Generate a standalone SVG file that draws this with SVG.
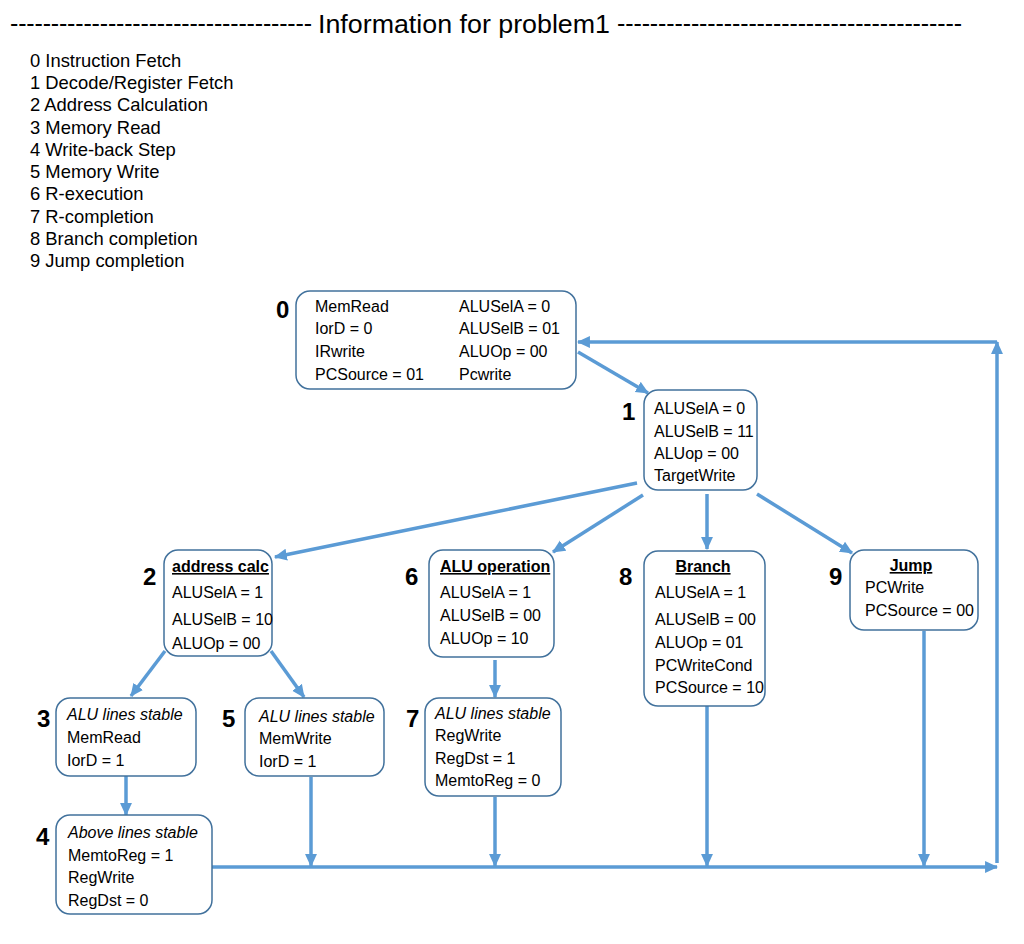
<svg xmlns="http://www.w3.org/2000/svg" width="1024" height="944" viewBox="0 0 1024 944">
<style>
.t{font-family:"Liberation Sans",Arial,sans-serif;font-size:16px;fill:#000}
.i{font-style:italic}
.h{font-weight:bold;text-decoration:underline}
.n{font-family:"Liberation Sans",Arial,sans-serif;font-size:24px;font-weight:bold;fill:#000}
.lst{font-family:"Liberation Sans",Arial,sans-serif;font-size:18.4px;fill:#000}
.box{fill:#fff;stroke:#41719c;stroke-width:1.5}
.c{stroke:#5b9bd5;stroke-width:3.5;fill:none}
.a{marker-end:url(#ah)}
</style>
<defs>
<marker id="ah" markerUnits="userSpaceOnUse" viewBox="0 0 12 12" refX="11" refY="6" markerWidth="13" markerHeight="13" orient="auto">
<path d="M0,0.5 L12,6 L0,11.5 Z" fill="#5b9bd5"/>
</marker>
</defs>
<rect width="1024" height="944" fill="#fff"/>
<g id="title">
<text x="10" y="32" class="lst" style="font-size:25px" textLength="302" lengthAdjust="spacing">-------------------------------------</text>
<text x="318" y="33" class="lst" style="font-size:25px" textLength="292" lengthAdjust="spacingAndGlyphs">Information for problem1</text>
<text x="617" y="32" class="lst" style="font-size:25px" textLength="345" lengthAdjust="spacing">------------------------------------------</text>
</g>
<g id="legend" class="lst">
<text x="30" y="67">0 Instruction Fetch</text>
<text x="30" y="89">1 Decode/Register Fetch</text>
<text x="30" y="111">2 Address Calculation</text>
<text x="30" y="134">3 Memory Read</text>
<text x="30" y="156">4 Write-back Step</text>
<text x="30" y="178">5 Memory Write</text>
<text x="30" y="200">6 R-execution</text>
<text x="30" y="223">7 R-completion</text>
<text x="30" y="245">8 Branch completion</text>
<text x="30" y="267">9 Jump completion</text>
</g>
<g id="connectors">
<line class="c a" x1="578" y1="352" x2="648" y2="393"/>
<line class="c a" x1="997" y1="863" x2="997" y2="342"/>
<line class="c a" x1="997" y1="342" x2="578" y2="342"/>
<line class="c a" x1="637" y1="483" x2="275" y2="557"/>
<line class="c a" x1="643" y1="495" x2="553" y2="552"/>
<line class="c a" x1="707" y1="494" x2="707" y2="549"/>
<line class="c a" x1="757" y1="494" x2="852" y2="553"/>
<line class="c a" x1="165" y1="651" x2="131" y2="696"/>
<line class="c a" x1="271" y1="651" x2="304" y2="697"/>
<line class="c a" x1="495" y1="660" x2="495" y2="697"/>
<line class="c a" x1="126" y1="776" x2="126" y2="815"/>
<line class="c a" x1="212" y1="867" x2="997" y2="867"/>
<line class="c a" x1="311" y1="777" x2="311" y2="866"/>
<line class="c a" x1="495" y1="797" x2="495" y2="866"/>
<line class="c a" x1="707" y1="706" x2="707" y2="866"/>
<line class="c a" x1="924" y1="631" x2="924" y2="866"/>
</g>
<g id="node0">
<rect class="box" x="296" y="291" width="280" height="98" rx="14"/>
<text class="n" x="276" y="318">0</text>
<text class="t" x="315" y="312">MemRead</text>
<text class="t" x="315" y="334">IorD = 0</text>
<text class="t" x="315" y="357">IRwrite</text>
<text class="t" x="315" y="380">PCSource = 01</text>
<text class="t" x="459" y="312">ALUSelA = 0</text>
<text class="t" x="459" y="334">ALUSelB = 01</text>
<text class="t" x="459" y="357">ALUOp = 00</text>
<text class="t" x="459" y="380">Pcwrite</text>
</g>
<g id="node1">
<rect class="box" x="644" y="390" width="113" height="100" rx="14"/>
<text class="n" x="622" y="420">1</text>
<text class="t" x="654" y="414">ALUSelA = 0</text>
<text class="t" x="654" y="437">ALUSelB = 11</text>
<text class="t" x="654" y="459">ALUop = 00</text>
<text class="t" x="654" y="481">TargetWrite</text>
</g>
<g id="node2">
<rect class="box" x="164" y="550" width="108" height="106" rx="14"/>
<text class="n" x="143" y="585">2</text>
<text class="t h" x="172" y="572">address calc</text>
<text class="t" x="172" y="598">ALUSelA = 1</text>
<text class="t" x="172" y="625">ALUSelB = 10</text>
<text class="t" x="172" y="649">ALUOp = 00</text>
</g>
<g id="node6">
<rect class="box" x="429" y="550" width="125" height="107" rx="14"/>
<text class="n" x="405" y="585">6</text>
<text class="t h" x="440" y="572">ALU operation</text>
<text class="t" x="440" y="598">ALUSelA = 1</text>
<text class="t" x="440" y="621">ALUSelB = 00</text>
<text class="t" x="440" y="644">ALUOp = 10</text>
</g>
<g id="node8">
<rect class="box" x="644" y="551" width="121" height="155" rx="14"/>
<text class="n" x="619" y="585">8</text>
<text class="t h" x="703" y="572" text-anchor="middle">Branch</text>
<text class="t" x="655" y="598">ALUSelA = 1</text>
<text class="t" x="655" y="625">ALUSelB = 00</text>
<text class="t" x="655" y="648">ALUOp = 01</text>
<text class="t" x="655" y="671">PCWriteCond</text>
<text class="t" x="655" y="693">PCSource = 10</text>
</g>
<g id="node9">
<rect class="box" x="850" y="550" width="128" height="80" rx="14"/>
<text class="n" x="829" y="585">9</text>
<text class="t h" x="911" y="571" text-anchor="middle">Jump</text>
<text class="t" x="865" y="593">PCWrite</text>
<text class="t" x="865" y="616">PCSource = 00</text>
</g>
<g id="node3">
<rect class="box" x="56" y="698" width="140" height="78" rx="14"/>
<text class="n" x="37" y="727">3</text>
<text class="t i" x="67" y="720">ALU lines stable</text>
<text class="t" x="67" y="743">MemRead</text>
<text class="t" x="67" y="766">IorD = 1</text>
</g>
<g id="node5">
<rect class="box" x="245" y="698" width="139" height="78" rx="14"/>
<text class="n" x="222" y="727">5</text>
<text class="t i" x="259" y="722">ALU lines stable</text>
<text class="t" x="259" y="744">MemWrite</text>
<text class="t" x="259" y="767">IorD = 1</text>
</g>
<g id="node7">
<rect class="box" x="425" y="698" width="136" height="98" rx="14"/>
<text class="n" x="406" y="727">7</text>
<text class="t i" x="435" y="719">ALU lines stable</text>
<text class="t" x="435" y="741">RegWrite</text>
<text class="t" x="435" y="764">RegDst = 1</text>
<text class="t" x="435" y="786">MemtoReg = 0</text>
</g>
<g id="node4">
<rect class="box" x="56" y="815" width="156" height="99" rx="14"/>
<text class="n" x="36" y="845">4</text>
<text class="t i" x="68" y="838">Above lines stable</text>
<text class="t" x="68" y="861">MemtoReg = 1</text>
<text class="t" x="68" y="883">RegWrite</text>
<text class="t" x="68" y="906">RegDst = 0</text>
</g>
</svg>
